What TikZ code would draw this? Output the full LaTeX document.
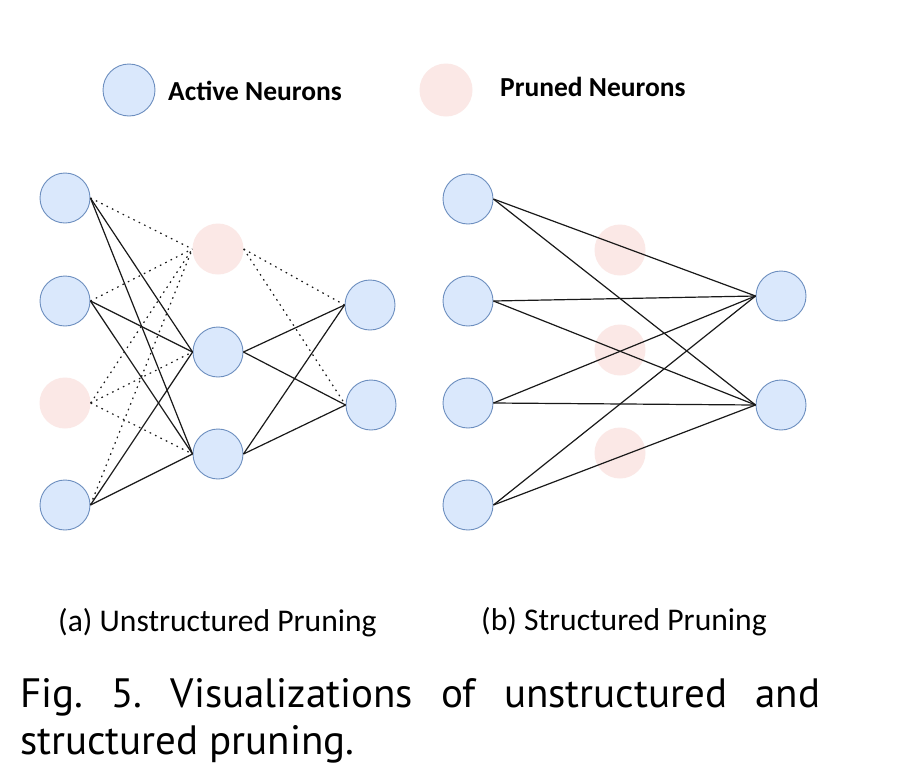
\documentclass[tikz,border=0pt]{standalone}
\usepackage{fontspec}
\setmainfont{Carlito}
\newfontfamily\capfont{PT Sans}
\definecolor{actfill}{HTML}{DAE8FC}
\definecolor{actdraw}{HTML}{6C8EBF}
\definecolor{prfill}{RGB}{251,232,230}
\begin{document}
\frenchspacing
\begin{tikzpicture}[x=1pt,y=-1pt,
  act/.style={circle, draw=actdraw, fill=actfill, minimum size=50pt, inner sep=0pt, line width=0.9pt},
  prn/.style={circle, fill=prfill, minimum size=51pt, inner sep=0pt},
  conn/.style={line width=1.2pt, black!90},
  cut/.style={conn, dash pattern=on 1.6pt off 4.4pt},
  legtxt/.style={anchor=base west, inner sep=0pt, font=\fontsize{27.5}{32}\selectfont\bfseries},
  subtxt/.style={anchor=base west, inner sep=0pt, font=\fontsize{31.6}{36}\selectfont},
  captxt/.style={anchor=base west, inner sep=0pt, font=\capfont\fontsize{41}{48}\selectfont}]
\useasboundingbox[fill=white] (0,0) rectangle (918,782);

% legend
\node[act, minimum size=52pt] (legA) at (129,90) {};
\node[legtxt] (legAt) at (168,100) {Active Neurons};
\node[prn, minimum size=53pt] (legP) at (446,90) {};
\node[legtxt] (legPt) at (500,96) {Pruned Neurons};

% (a) unstructured
\node[act] (a1) at (65,198) {};
\node[act] (a2) at (65,301) {};
\node[prn] (a3) at (65,403) {};
\node[act] (a4) at (65,505) {};
\node[prn] (b1) at (218,249) {};
\node[act] (b2) at (218,352) {};
\node[act] (b3) at (218,454) {};
\node[act] (c1) at (370,305) {};
\node[act] (c2) at (371,405) {};

\draw[cut] (a1.east) -- (b1.west);
\draw[conn] (a1.east) -- (b2.west);
\draw[conn] (a1.east) -- (b3.west);
\draw[cut] (a2.east) -- (b1.west);
\draw[conn] (a2.east) -- (b2.west);
\draw[conn] (a2.east) -- (b3.west);
\draw[cut] (a3.east) -- (b1.west);
\draw[cut] (a3.east) -- (b2.west);
\draw[cut] (a3.east) -- (b3.west);
\draw[cut] (a4.east) -- (b1.west);
\draw[conn] (a4.east) -- (b2.west);
\draw[conn] (a4.east) -- (b3.west);
\draw[cut] (b1.east) -- (c1.west);
\draw[cut] (b1.east) -- (c2.west);
\draw[conn] (b2.east) -- (c1.west);
\draw[conn] (b2.east) -- (c2.west);
\draw[conn] (b3.east) -- (c1.west);
\draw[conn] (b3.east) -- (c2.west);

% (b) structured
\node[act] (s1) at (468,199) {};
\node[act] (s2) at (468,301) {};
\node[act] (s3) at (468,403) {};
\node[act] (s4) at (468,505) {};
\node[prn] (p1) at (620,250) {};
\node[prn] (p2) at (620,350) {};
\node[prn] (p3) at (620,453) {};
\node[act] (t1) at (781,296) {};
\node[act] (t2) at (781,405) {};

\foreach \s in {s1,s2,s3,s4}{
  \draw[conn] (\s.east) -- (t1.west);
  \draw[conn] (\s.east) -- (t2.west);
}

% labels
\node[subtxt] (capa) at (58,631) {(a) Unstructured Pruning};
\node[subtxt] (capb) at (481,630) {(b) Structured Pruning};
\node[captxt] (fig1) at (20,707) {\makebox[800pt][s]{Fig. 5. Visualizations of unstructured and}};
\node[captxt] (fig2) at (20,754) {structured pruning.};
\end{tikzpicture}
\end{document}
